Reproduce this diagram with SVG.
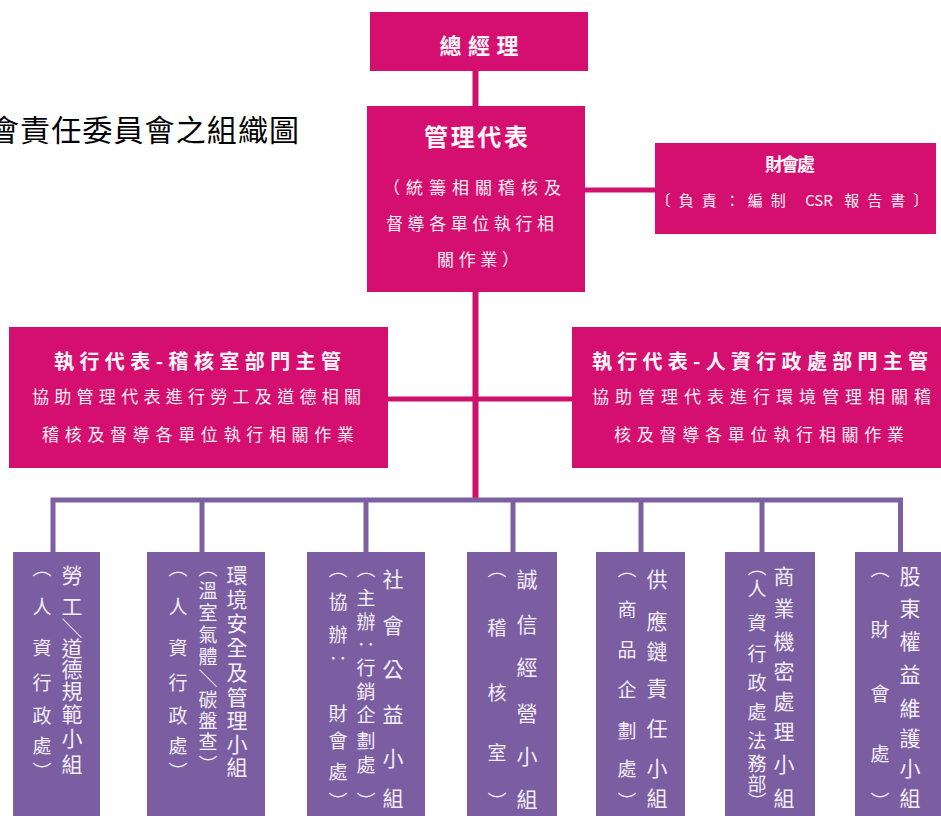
<svg xmlns="http://www.w3.org/2000/svg" width="941" height="816" viewBox="0 0 941 816">
<style>
.mg{fill:#D50F6F}
.pp{fill:#7B5DA1}
.cm{stroke:#D0106D;fill:none}
.cp{stroke:#7C60A0;fill:none;stroke-width:5}
text{font-family:"Noto Sans CJK TC","Noto Sans CJK SC",sans-serif;dominant-baseline:central;text-anchor:middle}
.th{fill:#FFF6FA;font-weight:bold}
.tb{fill:#FFF0F6}
.v{fill:#F3EEF8;font-size:21px}
.vs{fill:#F3EEF8;font-size:19px}
.title{fill:#000;font-size:30px;text-anchor:end}
</style>
<rect width="941" height="816" fill="#FFFFFF"/>
<text class="title" x="299" y="128" textLength="310" lengthAdjust="spacing">會責任委員會之組織圖</text>

<g id="connectors">
<line class="cm" x1="475.5" y1="70" x2="475.5" y2="107" stroke-width="6"/>
<line class="cm" x1="475.5" y1="291" x2="475.5" y2="499" stroke-width="6"/>
<line class="cm" x1="584" y1="190" x2="656" y2="190" stroke-width="5"/>
<line class="cm" x1="387" y1="399" x2="573" y2="399" stroke-width="5"/>
<path class="cp" d="M53,553 V500 H900.5 V553"/>
<line class="cp" x1="202" y1="500" x2="202" y2="553"/>
<line class="cp" x1="366" y1="500" x2="366" y2="553"/>
<line class="cp" x1="513" y1="500" x2="513" y2="553"/>
<line class="cp" x1="641" y1="500" x2="641" y2="553"/>
<line class="cp" x1="762" y1="500" x2="762" y2="553"/>
</g>

<g id="n-gm">
<rect class="mg" x="370" y="12" width="218" height="59"/>
<text class="th" x="479" y="44" font-size="22" textLength="79" lengthAdjust="spacing">總經理</text>
</g>

<g id="n-mr">
<rect class="mg" x="367" y="106" width="218" height="186"/>
<text class="th" x="476" y="135" font-size="24" textLength="104" lengthAdjust="spacing">管理代表</text>
<text class="tb" x="472" y="186" font-size="17" textLength="178" lengthAdjust="spacing">（統籌相關稽核及</text>
<text class="tb" x="470" y="222" font-size="17" textLength="168" lengthAdjust="spacing">督導各單位執行相</text>
<text class="tb" x="478" y="258" font-size="17" textLength="82" lengthAdjust="spacing">關作業）</text>
</g>

<g id="n-fin">
<rect class="mg" x="655" y="143" width="281" height="91"/>
<text class="th" x="790" y="163" font-size="18" textLength="50" lengthAdjust="spacing">財會處</text>
<text class="tb" x="796" y="199" font-size="15" letter-spacing="8"><tspan>〔負責：編制 </tspan><tspan letter-spacing="0">CSR</tspan><tspan> 報告書〕</tspan></text>
</g>

<g id="n-exec-audit">
<rect class="mg" x="9" y="327" width="379" height="141"/>
<text class="th" x="197.5" y="360" font-size="20" textLength="287" lengthAdjust="spacing">執行代表-稽核室部門主管</text>
<text class="tb" x="196.5" y="395" font-size="17" textLength="329" lengthAdjust="spacing">協助管理代表進行勞工及道德相關</text>
<text class="tb" x="198" y="433" font-size="17" textLength="312" lengthAdjust="spacing">稽核及督導各單位執行相關作業</text>
</g>

<g id="n-exec-hr">
<rect class="mg" x="572" y="327" width="370" height="141"/>
<text class="th" x="760" y="360" font-size="20" textLength="336" lengthAdjust="spacing">執行代表-人資行政處部門主管</text>
<text class="tb" x="761.5" y="395" font-size="17" textLength="339" lengthAdjust="spacing">協助管理代表進行環境管理相關稽</text>
<text class="tb" x="759" y="433" font-size="17" textLength="290" lengthAdjust="spacing">核及督導各單位執行相關作業</text>
</g>

<g id="n-labor">
<rect class="pp" x="13" y="552" width="87" height="270"/>
<text class="v"><tspan x="72" y="574">勞</tspan><tspan x="72" y="605">工</tspan><tspan x="72" y="627">＼</tspan><tspan x="72" y="647">道</tspan><tspan x="72" y="668">德</tspan><tspan x="72" y="690">規</tspan><tspan x="72" y="713">範</tspan><tspan x="72" y="737">小</tspan><tspan x="72" y="763">組</tspan></text>
<text class="vs"><tspan x="42" y="566">︵</tspan><tspan x="42" y="605">人</tspan><tspan x="42" y="646">資</tspan><tspan x="42" y="681">行</tspan><tspan x="42" y="714">政</tspan><tspan x="42" y="744">處</tspan><tspan x="42" y="770">︶</tspan></text>
</g>

<g id="n-env">
<rect class="pp" x="147" y="552" width="118" height="270"/>
<text class="v"><tspan x="237" y="574">環</tspan><tspan x="237" y="598">境</tspan><tspan x="237" y="622">安</tspan><tspan x="237" y="646">全</tspan><tspan x="237" y="671">及</tspan><tspan x="237" y="696">管</tspan><tspan x="237" y="719">理</tspan><tspan x="237" y="743">小</tspan><tspan x="237" y="766">組</tspan></text>
<text class="vs"><tspan x="208" y="566">︵</tspan><tspan x="208" y="589">溫</tspan><tspan x="208" y="611">室</tspan><tspan x="208" y="633">氣</tspan><tspan x="208" y="655">體</tspan><tspan x="208" y="677">＼</tspan><tspan x="208" y="698">碳</tspan><tspan x="208" y="719">盤</tspan><tspan x="208" y="740">查</tspan><tspan x="208" y="763">︶</tspan></text>
<text class="vs"><tspan x="178" y="566">︵</tspan><tspan x="178" y="605">人</tspan><tspan x="178" y="646">資</tspan><tspan x="178" y="681">行</tspan><tspan x="178" y="714">政</tspan><tspan x="178" y="744">處</tspan><tspan x="178" y="770">︶</tspan></text>
</g>

<g id="n-social">
<rect class="pp" x="307" y="552" width="118" height="270"/>
<text class="v"><tspan x="393" y="578">社</tspan><tspan x="393" y="624">會</tspan><tspan x="393" y="668">公</tspan><tspan x="393" y="713">益</tspan><tspan x="393" y="757">小</tspan><tspan x="393" y="797">組</tspan></text>
<text class="vs"><tspan x="366" y="567">︵</tspan><tspan x="366" y="596">主</tspan><tspan x="366" y="620">辦</tspan><tspan x="366" y="643">‥</tspan><tspan x="366" y="666">行</tspan><tspan x="366" y="690">銷</tspan><tspan x="366" y="713">企</tspan><tspan x="366" y="739">劃</tspan><tspan x="366" y="763">處</tspan><tspan x="366" y="800">︶</tspan></text>
<text class="vs"><tspan x="338" y="567">︵</tspan><tspan x="338" y="600">協</tspan><tspan x="338" y="633">辦</tspan><tspan x="338" y="657">‥</tspan><tspan x="338" y="712">財</tspan><tspan x="338" y="739">會</tspan><tspan x="338" y="770">處</tspan><tspan x="338" y="800">︶</tspan></text>
</g>

<g id="n-integrity">
<rect class="pp" x="467" y="552" width="90" height="270"/>
<text class="v"><tspan x="527" y="578">誠</tspan><tspan x="527" y="623">信</tspan><tspan x="527" y="666">經</tspan><tspan x="527" y="712">營</tspan><tspan x="527" y="755">小</tspan><tspan x="527" y="798">組</tspan></text>
<text class="vs"><tspan x="497" y="567">︵</tspan><tspan x="497" y="626">稽</tspan><tspan x="497" y="691">核</tspan><tspan x="497" y="751">室</tspan><tspan x="497" y="800">︶</tspan></text>
</g>

<g id="n-supply">
<rect class="pp" x="596" y="552" width="89" height="270"/>
<text class="v"><tspan x="657" y="578">供</tspan><tspan x="657" y="620">應</tspan><tspan x="657" y="650">鏈</tspan><tspan x="657" y="687">責</tspan><tspan x="657" y="727">任</tspan><tspan x="657" y="767">小</tspan><tspan x="657" y="797">組</tspan></text>
<text class="vs"><tspan x="627" y="567">︵</tspan><tspan x="627" y="608">商</tspan><tspan x="627" y="648">品</tspan><tspan x="627" y="688">企</tspan><tspan x="627" y="729">劃</tspan><tspan x="627" y="767">處</tspan><tspan x="627" y="800">︶</tspan></text>
</g>

<g id="n-secret">
<rect class="pp" x="725" y="552" width="90" height="270"/>
<text class="v"><tspan x="784" y="575">商</tspan><tspan x="784" y="607">業</tspan><tspan x="784" y="640">機</tspan><tspan x="784" y="670">密</tspan><tspan x="784" y="700">處</tspan><tspan x="784" y="730">理</tspan><tspan x="784" y="763">小</tspan><tspan x="784" y="797">組</tspan></text>
<text class="vs"><tspan x="757" y="565">︵</tspan><tspan x="757" y="587">人</tspan><tspan x="757" y="621">資</tspan><tspan x="757" y="652">行</tspan><tspan x="757" y="681">政</tspan><tspan x="757" y="710">處</tspan><tspan x="757" y="739">法</tspan><tspan x="757" y="762">務</tspan><tspan x="757" y="782">部</tspan><tspan x="757" y="800">︶</tspan></text>
</g>

<g id="n-shareholder">
<rect class="pp" x="855" y="552" width="87" height="270"/>
<text class="v"><tspan x="910" y="575">股</tspan><tspan x="910" y="607">東</tspan><tspan x="910" y="640">權</tspan><tspan x="910" y="673">益</tspan><tspan x="910" y="707">維</tspan><tspan x="910" y="737">護</tspan><tspan x="910" y="767">小</tspan><tspan x="910" y="797">組</tspan></text>
<text class="vs"><tspan x="880" y="567">︵</tspan><tspan x="880" y="628">財</tspan><tspan x="880" y="692">會</tspan><tspan x="880" y="752">處</tspan><tspan x="880" y="800">︶</tspan></text>
</g>
</svg>
